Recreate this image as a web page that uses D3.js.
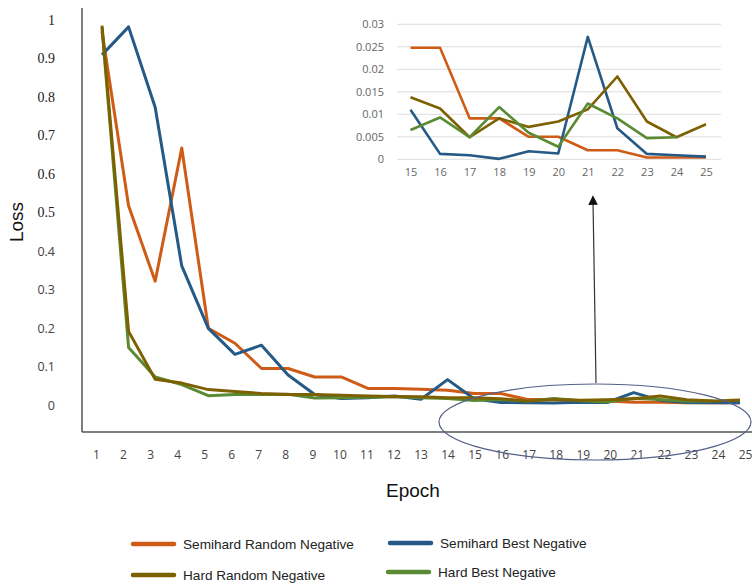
<!DOCTYPE html>
<html>
<head>
<meta charset="utf-8">
<script src="https://cdn.jsdelivr.net/npm/d3@7"></script>
<style>
  body { margin: 0; background: #fff; }
</style>
</head>
<body>
<div class="chart"></div>
<script>
const w = 752;
const h = 584;

const epochs = d3.range(1, 26);
const semihardRandom = [0.97, 0.515, 0.318, 0.666, 0.195, 0.156, 0.09, 0.09, 0.068, 0.068, 0.038, 0.038, 0.036, 0.033,
  0.0248, 0.0248, 0.0091, 0.0091, 0.005, 0.005, 0.002, 0.002, 0.0004, 0.0004, 0.0004];
const semihardBest = [0.909, 0.982, 0.772, 0.358, 0.195, 0.127, 0.151, 0.073, 0.022, 0.012, 0.014, 0.018, 0.01, 0.061,
  0.011, 0.0012, 0.0009, 0.0001, 0.0018, 0.0013, 0.0272, 0.0069, 0.0012, 0.0009, 0.0006];
const hardRandom = [0.985, 0.187, 0.062, 0.052, 0.035, 0.03, 0.025, 0.022, 0.022, 0.02, 0.018, 0.017, 0.016, 0.014,
  0.0138, 0.0113, 0.0049, 0.0091, 0.0072, 0.0084, 0.0111, 0.0184, 0.0084, 0.0049, 0.0078];
const hardBest = [0.98, 0.145, 0.068, 0.048, 0.019, 0.022, 0.022, 0.023, 0.013, 0.014, 0.015, 0.016, 0.014, 0.012,
  0.0065, 0.0093, 0.0049, 0.0116, 0.0059, 0.0028, 0.0124, 0.0091, 0.0047, 0.0049, null];

const yTicks = [0, 0.1, 0.2, 0.3, 0.4, 0.5, 0.6, 0.7, 0.8, 0.9, 1];
const insetYTicks = [0, 0.005, 0.01, 0.015, 0.02, 0.025, 0.03];
const insetEpochs = d3.range(15, 26);

const series = [
  { name: 'Semihard Random Negative', values: semihardRandom, color: '#cf5c16' },
  { name: 'Semihard Best Negative', values: semihardBest, color: '#255a86' },
  { name: 'Hard Best Negative', values: hardBest, color: '#5a8a32' },
  { name: 'Hard Random Negative', values: hardRandom, color: '#7d6000' }
];

const svg = d3.select('.chart').append('svg').attr('width', w).attr('height', h);

// main scales (points sit a little inside the tick labels)
const xScale = d3.scaleLinear().domain([1, 25]).range([102, 740]);
const xLabel = d3.scaleLinear().domain([1, 25]).range([96, 745]);
const yScale = d3.scaleLinear().domain([0, 1]).range([403, 20]);
const yLabel = d3.scaleLinear().domain([0, 1]).range([405, 20]);

// axis frame
svg.append('line').attr('x1', 82).attr('x2', 82).attr('y1', 8).attr('y2', 432)
  .attr('stroke', '#555').attr('stroke-width', 1.5);
svg.append('line').attr('x1', 82).attr('x2', 752).attr('y1', 432).attr('y2', 432)
  .attr('stroke', '#555').attr('stroke-width', 1.5);

// y ticks
const yAxis = d3.axisLeft(yLabel).tickValues(yTicks).tickSize(0).tickPadding(0)
  .tickFormat((d) => (d === 0 || d === 1 ? d3.format('d')(d) : d3.format('.1f')(d)));
const gy = svg.append('g').attr('transform', 'translate(55,0)').call(yAxis);
gy.select('.domain').remove();
gy.selectAll('text')
  .attr('font-family', (d) => (d >= 0.5 ? '"Liberation Serif", serif' : '"Open Sans", sans-serif'))
  .attr('font-size', (d) => (d >= 0.5 ? 14 : 12.5))
  .attr('fill', (d) => (d >= 0.5 ? '#222' : '#444'));

// x ticks
const xAxis = d3.axisBottom(xLabel).tickValues(epochs).tickSize(0).tickPadding(0).tickFormat(d3.format('d'));
const gx = svg.append('g').attr('transform', 'translate(0,450)').call(xAxis);
gx.select('.domain').remove();
gx.selectAll('text').attr('font-family', '"Open Sans", sans-serif').attr('font-size', 12).attr('fill', '#444');

// lines
const line = d3.line()
  .defined((d) => d != null)
  .x((d, i) => xScale(epochs[i]))
  .y((d) => yScale(d));

series.forEach((s) => {
  svg.append('path').datum(s.values)
    .attr('fill', 'none').attr('stroke', s.color).attr('stroke-width', 3)
    .attr('stroke-linejoin', 'round').attr('d', line);
});

// axis titles
svg.append('text').attr('transform', 'translate(23,222) rotate(-90)')
  .attr('text-anchor', 'middle').attr('font-family', '"Liberation Sans", Arial, sans-serif')
  .attr('font-size', 19).attr('fill', '#111').text('Loss');
svg.append('text').attr('x', 413).attr('y', 497)
  .attr('text-anchor', 'middle').attr('font-family', '"Liberation Sans", Arial, sans-serif')
  .attr('font-size', 19).attr('fill', '#111').text('Epoch');

// zoom ellipse and arrow
svg.append('ellipse').attr('cx', 595).attr('cy', 422).attr('rx', 156).attr('ry', 38)
  .attr('fill', 'none').attr('stroke', '#55608a').attr('stroke-width', 1.2);
svg.append('defs').append('marker').attr('id', 'arrow')
  .attr('viewBox', '0 0 10 10').attr('refX', 5).attr('refY', 5)
  .attr('markerWidth', 8).attr('markerHeight', 8).attr('orient', 'auto-start-reverse')
  .append('path').attr('d', 'M0,0 L10,5 L0,10 z').attr('fill', '#111');
svg.append('line').attr('x1', 596).attr('y1', 383).attr('x2', 593).attr('y2', 200)
  .attr('stroke', '#333').attr('stroke-width', 1.2).attr('marker-end', 'url(#arrow)');

// inset
const ix = d3.scaleLinear().domain([15, 25]).range([410.5, 706]);
const iy = d3.scaleLinear().domain([0, 0.03]).range([159.3, 24.3]);

const inset = svg.append('g');
inset.selectAll('line.grid').data(insetYTicks).enter().append('line')
  .attr('class', 'grid').attr('x1', 397).attr('x2', 721)
  .attr('y1', (d) => iy(d)).attr('y2', (d) => iy(d))
  .attr('stroke', '#dcdcdc').attr('stroke-width', 1);

const iyAxis = d3.axisLeft(iy).tickValues(insetYTicks).tickSize(0).tickPadding(0)
  .tickFormat((d) => (d === 0 ? '0' : String(+d.toFixed(3))));
const giy = inset.append('g').attr('transform', 'translate(384,0)').call(iyAxis);
giy.select('.domain').remove();
giy.selectAll('text').attr('font-family', '"Open Sans", sans-serif').attr('font-size', 11).attr('fill', '#666');

const ixAxis = d3.axisBottom(ix).tickValues(insetEpochs).tickSize(0).tickPadding(0).tickFormat(d3.format('d'));
const gix = inset.append('g').attr('transform', 'translate(0,168)').call(ixAxis);
gix.select('.domain').remove();
gix.selectAll('text').attr('font-family', '"Open Sans", sans-serif').attr('font-size', 11).attr('fill', '#666');

const insetLine = d3.line()
  .defined((d) => d != null)
  .x((d, i) => ix(insetEpochs[i]))
  .y((d) => iy(d));

[series[0], series[1], series[3], series[2]].forEach((s) => {
  inset.append('path').datum(s.values.slice(14))
    .attr('fill', 'none').attr('stroke', s.color).attr('stroke-width', 2.6)
    .attr('stroke-linejoin', 'round').attr('d', insetLine);
});

// legend
const legendItems = [
  { name: 'Semihard Random Negative', color: '#cf5c16', x: 133, y: 544 },
  { name: 'Semihard Best Negative', color: '#255a86', x: 390, y: 543 },
  { name: 'Hard Random Negative', color: '#7d6000', x: 133, y: 575 },
  { name: 'Hard Best Negative', color: '#5a8a32', x: 388, y: 572 }
];
const lg = svg.append('g').selectAll('g').data(legendItems).enter().append('g')
  .attr('transform', (d) => `translate(${d.x},${d.y})`);
lg.append('line').attr('x1', 0).attr('x2', 41).attr('y1', 0).attr('y2', 0)
  .attr('stroke', (d) => d.color).attr('stroke-width', 4.5).attr('stroke-linecap', 'round');
lg.append('text').attr('x', 50).attr('y', 5)
  .attr('font-family', '"Liberation Sans", Arial, sans-serif').attr('font-size', 13.6).attr('fill', '#222')
  .text((d) => d.name);
</script>
</body>
</html>
